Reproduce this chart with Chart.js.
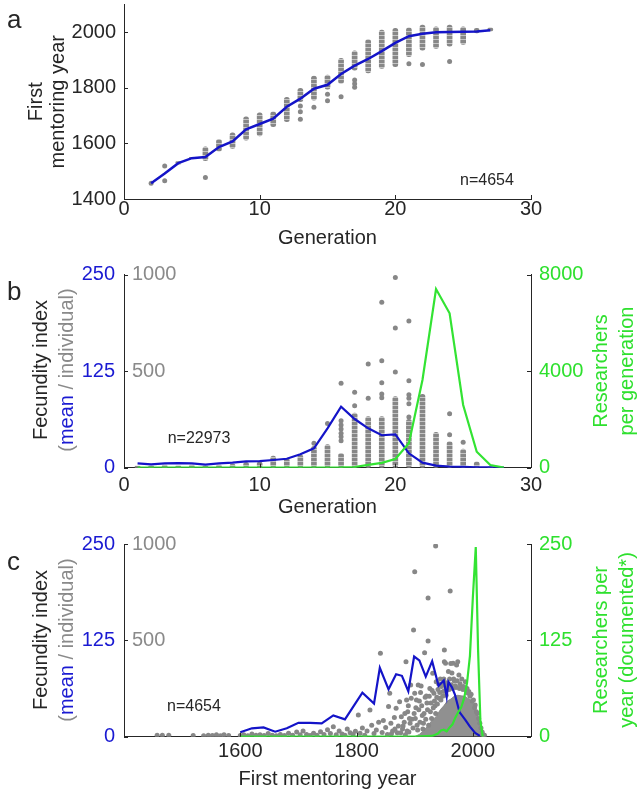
<!DOCTYPE html>
<html><head><meta charset="utf-8">
<script src="https://cdn.jsdelivr.net/npm/chart.js@4.4.1/dist/chart.umd.min.js"></script>
<style>
body{margin:0;width:642px;height:796px;background:#fff;position:relative;overflow:hidden;font-family:"Liberation Sans",Arial,sans-serif;color:#262626}
canvas{position:absolute;left:0}
.lt{position:absolute;font-size:26px;line-height:1}
.n{position:absolute;font-size:16px;line-height:1;transform:translate(-50%,-50%);white-space:nowrap}
.rt{position:absolute;transform:translate(-50%,-50%) rotate(-90deg);font-size:20px;line-height:26px;text-align:center;white-space:nowrap}
.bl{color:#1a1ad2}.gr{color:#8a8a8a}.gn{color:#2ee02e}
</style></head><body>
<canvas id="ca" width="642" height="262" style="top:0"></canvas>
<canvas id="cb" width="642" height="264" style="top:262px"></canvas>
<canvas id="cc" width="642" height="270" style="top:526px"></canvas>

<div class="lt" style="left:7px;top:6px">a</div>
<div class="lt" style="left:7px;top:278px">b</div>
<div class="lt" style="left:7px;top:548px">c</div>

<div class="n" style="left:487px;top:180px">n=4654</div>
<div class="n" style="left:199px;top:438px">n=22973</div>
<div class="n" style="left:194px;top:706px">n=4654</div>

<div class="rt" style="left:53px;top:370px"><div>Fecundity index</div><div><span class="gr">(</span><span class="bl">mean</span><span class="gr"> / individual)</span></div></div>
<div class="rt gn" style="left:613px;top:371px"><div>Researchers</div><div>per generation</div></div>
<div class="rt" style="left:53px;top:640px"><div>Fecundity index</div><div><span class="gr">(</span><span class="bl">mean</span><span class="gr"> / individual)</span></div></div>
<div class="rt gn" style="left:613px;top:640px"><div>Researchers per</div><div>year (documented*)</div></div>

<script>
// ---------- Panel a data ----------
const aXTicks = [0, 10, 20, 30];
const aYTicks = [1400, 1600, 1800, 2000];
const aGen  = [2,3,4,5,6,7,8,9,10,11,12,13,14,15,16,17,18,19,20,21,22,23,24,25,26,27];
const aMean = [1457,1492,1529,1547,1551,1587,1607,1651,1670,1689,1732,1761,1797,1811,1850,1880,1904,1932,1962,1986,1995,2000,2001,2002,2003,2007];
const aColGen = [4,5,6,7,8,9,10,11,12,13,14,15,16,17,18,19,20,21,22,23,24,25,26,27];
const aColMin = [1525,1545,1538,1572,1582,1612,1627,1660,1678,1750,1756,1795,1816,1864,1854,1870,1876,1912,1936,1942,1950,1956,1998,2004];
const aColMax = [1535,1550,1588,1615,1638,1696,1710,1714,1766,1798,1842,1846,1906,1933,1974,2008,2014,2016,2026,2020,2026,2020,2014,2016];
const aOutGen = [2,3,3,6,13,13,13,14,15,15,16,17,17,17,21,22,24];
const aOutVal = [1457,1519,1466,1477,1735,1714,1687,1730,1777,1754,1768,1828,1815,1802,1887,1884,1895];

// ---------- Panel b data ----------
const bXTicks = [0, 10, 20, 30];
const bBlueTicks = [0, 125, 250];
const bGrayTicks = [500, 1000];
const bGreenTicks = [0, 4000, 8000];
const bGen   = [1,2,3,4,5,6,7,8,9,10,11,12,13,14,15,16,17,18,19,20,21,22,23,24,25,26,27,28];
const bMean  = [5.7,4.4,5.7,6,5.7,3.9,5.7,6.5,8.3,8.6,10,11.6,17.3,25,51,79,63,51,42,43,18.6,6.5,2.6,1.3,1,0.5,0.3,0];
const bResearchers = [0,0,0,0,0,0,0,0,0,0,0,0,0,0,5,10,30,120,200,360,1010,3631,7400,6393,2596,663,112,0];
const bColGen = [1,2,3,4,5,6,7,8,9,10,11,12,13,14,15,16,17,18,19,20,21,22,23,24,25,26,27];
const bColTop = [8,10,14,10,14,8,14,19,28,31,60,48,66,110,120,74,283,264,264,368,250,380,183,135,97,31,5];
const bOutGen = [14,15,16,16,16,16,16,16,16,17,17,18,18,19,19,19,19,19,20,20,20,21,21,21,21,21,21,24,24,25];
const bOutVal = [126,229,140,160,178,200,221,243,437,321,391,360,537,362,381,440,554,856,495,723,985,262,331,360,377,450,759,170,279,132];

// ---------- Panel c data ----------
const cXTicks = [1600, 1800, 2000];
const cBlueTicks = [0, 125, 250];
const cGrayTicks = [500, 1000];
const cGreenTicks = [0, 125, 250];
const cMeanYear = [1600,1620,1640,1660,1680,1700,1720,1740,1760,1780,1810,1830,1840,1855,1868,1878,1889,1899,1908,1919,1930,1941,1950,1955,1958,1964,1969,1977,1987,1995,2004,2012];
const cMean     = [5.7,10.9,12,6.5,11,18,18,17.3,27.7,22.5,57,43,89.5,61.5,81,79,59,104,99,78,98,66,73,52,71,64,55,32,21.7,13,5,1];
const cResYear  = [1600,1700,1800,1900,1930,1940,1945,1950,1955,1960,1965,1970,1975,1980,1985,1990,1995,2000,2005,2009,2013,2017];
const cResearchers = [0,0,0,0,1,4,8,9,7,12,16,25,32,38,50,70,105,181,246,112,20,0];
const cBlobYear = [1900,1908,1915,1922,1930,1937,1944,1950,1956,1962,1968,1974,1980,1986,1991,1996,2001,2005,2009,2013,2017];
const cBlobTop  = [0,12,30,55,85,105,140,160,185,195,210,215,212,210,200,190,170,140,95,40,0];
const cPtYear = [1457,1466,1477,1519,1537,1545,1552,1559,1566,1572,1580,1600,1606,1613,1620,1627,1634,1641,1648,1655,1662,1669,1676,1683,1690,1697,1703,1708,1714,1720,1726,1732,1738,1744,1750,1755,1760,1765,1770,1775,1780,1784,1789,1794,1798,1803,1806,1810,1814,1818,1823,1826,1830,1834,1838,1841,1844,1846,1850,1853,1855,1857,1859,1862,1865,1868,1870,1872,1874,1877,1879,1882,1885,1886,1888,1890,1893,1895,1898,1900,1900,1902,1904,1906,1908,1911,1913,1915,1917,1918,1920,1922,1923,1923,1926,1928,1931,1933,1935,1936,1937,1940,1942,1944,1947,1949,1951,1951,1953,1955,1957,1958,1960,1961,1962,1964,1966,1968,1970,1972,1974,1976,1978,1981,1984,1987,1990,1993,1997,2001,2004,2008,2012,2016,2020,
  1880,1883,1887,1889,1892,1894,1897,1899,1901,1903,1905,1907,1909,1910,1912,1914,1916,1919,1921,1924,1925,1927,1929,1930,1932,1934,1936,1938,1939,1941,1943,1945,1946,1948,1950,1952,1954,1956,1959,1963,1965,1967,1971,1973,1977,1979,1983,1986,1989,1992,1995,1999,2003,2006,2010,2014,2018,1860,1866,1876,1884,1891];
const cPtVal  = [8,8,8,6,5,8,6,10,5,10,6,6,10,5,14,7,10,6,16,8,5,12,6,18,8,24,10,30,12,6,18,8,26,12,36,16,52,10,30,14,8,40,20,12,28,112,18,45,8,30,138,60,16,35,75,433,22,84,48,12,157,225,70,30,100,147,20,55,182,104,40,75,389,190,130,25,268,90,554,856,225,150,60,268,185,263,110,70,436,205,211,140,720,497,250,175,329,225,160,990,285,245,200,300,270,235,450,389,381,280,255,338,300,756,380,330,381,290,265,372,389,320,275,300,260,285,250,235,220,190,165,120,70,25,8,
  55,120,30,160,70,200,45,120,95,190,35,140,75,230,160,40,120,90,175,60,210,130,95,240,150,185,120,205,170,275,230,190,260,210,300,240,215,265,245,270,250,300,255,290,250,260,245,250,240,225,210,185,150,130,95,45,10,15,40,20,10,95];

// ---------- styling ----------
const GRAY = '#878787', BLUE = '#1414c8', GREEN = '#33e333', AX = '#262626';
const TBLUE = '#1a1ad2', TGRAY = '#8a8a8a', TGREEN = '#2ee02e';
Chart.defaults.font.family = '"Liberation Sans", Arial, sans-serif';
const F20 = {size: 20, lineHeight: 1};

function beads(canvasId) {
  const t = document.createElement('canvas'); t.width = 1; t.height = 4;
  const g = t.getContext('2d');
  g.fillStyle = GRAY; g.fillRect(0, 0, 1, 3);
  g.fillStyle = '#c4c4c4'; g.fillRect(0, 3, 1, 1);
  return document.getElementById(canvasId).getContext('2d').createPattern(t, 'repeat');
}

const inTicks = {
  id: 'inTicks',
  afterDatasetsDraw(chart, args, opts) {
    const ctx = chart.ctx, ca = chart.chartArea;
    ctx.save(); ctx.strokeStyle = AX; ctx.lineWidth = 1;
    (opts.ids || []).forEach(id => {
      const s = chart.scales[id]; if (!s) return;
      s.ticks.forEach(t => {
        const p = Math.round(s.getPixelForValue(t.value)) + 0.5;
        ctx.beginPath();
        if (s.isHorizontal()) { ctx.moveTo(p, ca.bottom); ctx.lineTo(p, ca.bottom - 4); }
        else if (s.position === 'left') { ctx.moveTo(ca.left, p); ctx.lineTo(ca.left + 4, p); }
        else { ctx.moveTo(ca.right, p); ctx.lineTo(ca.right - 4, p); }
        ctx.stroke();
      });
    });
    ctx.restore();
  }
};

const NOGRID = {display: false, drawTicks: false, tickLength: 0, offset: false};
function setTicks(vals) { return s => { s.ticks = vals.map(v => ({value: v})); }; }
function xAxis(min, max, ticks, h, pad, title, tpb) {
  return {type: 'linear', position: 'bottom', min, max, offset: false,
    grid: NOGRID, border: {display: true, color: AX, width: 1},
    ticks: {color: AX, font: F20, padding: pad, autoSkip: false, maxRotation: 0, callback: v => String(v)},
    afterBuildTicks: setTicks(ticks),
    afterFit: s => { s.height = h; s.paddingLeft = 0; s.paddingRight = 0; },
    title: {display: true, text: title, color: AX, font: F20, padding: {top: 0, bottom: tpb}}};
}
function yLeft(min, max, ticks, color, pad, extra) {
  return Object.assign({type: 'linear', position: 'left', weight: 1, min, max,
    grid: NOGRID, border: {display: true, color: AX, width: 1},
    ticks: {color, font: F20, padding: pad, autoSkip: false, callback: v => String(v)},
    afterBuildTicks: setTicks(ticks),
    afterFit: s => { s.width = 124; s.paddingTop = 0; s.paddingBottom = 0; }}, extra || {});
}
function yGray(ticks) {
  return {type: 'linear', position: 'left', weight: 0, min: 0, max: 1000,
    grid: NOGRID, border: {display: false},
    ticks: {mirror: true, color: TGRAY, font: F20, padding: 8, autoSkip: false, callback: v => String(v)},
    afterBuildTicks: setTicks(ticks),
    afterFit: s => { s.width = 0; s.paddingTop = 0; s.paddingBottom = 0; }};
}
function yRight(max, ticks) {
  return {type: 'linear', position: 'right', min: 0, max,
    grid: NOGRID, border: {display: true, color: AX, width: 1},
    ticks: {color: TGREEN, font: F20, padding: 8, autoSkip: false, callback: v => String(v)},
    afterBuildTicks: setTicks(ticks),
    afterFit: s => { s.width = 111; s.paddingTop = 0; s.paddingBottom = 0; }};
}
const common = {responsive: false, animation: false, events: [],
  plugins: {legend: {display: false}, tooltip: {enabled: false}}};

// ---------- Panel a ----------
new Chart(document.getElementById('ca'), {
  type: 'scatter',
  data: {datasets: [
    {type: 'bar', data: aColGen.map((g, i) => ({x: g, y: [aColMin[i], aColMax[i]]})),
     backgroundColor: beads('ca'), barThickness: 5, borderRadius: 2.5, borderSkipped: false, order: 3},
    {type: 'scatter', data: aOutGen.map((g, i) => ({x: g, y: aOutVal[i]})),
     backgroundColor: GRAY, pointRadius: 2.5, pointBorderWidth: 0, order: 2},
    {type: 'line', data: aGen.map((g, i) => ({x: g, y: aMean[i]})),
     borderColor: BLUE, borderWidth: 2.5, pointRadius: 0, fill: false, tension: 0, order: 1}
  ]},
  options: Object.assign({}, common, {
    layout: {padding: {top: 4.5, right: 111, left: 0, bottom: 0}},
    scales: {
      x: xAxis(0, 30, aXTicks, 63, 0, 'Generation', 14),
      y: yLeft(1400, 2100, aYTicks, AX, 8, {title: {display: true, text: ['First', 'mentoring year'], color: AX,
          font: {size: 20, lineHeight: 1.1}, padding: {top: 25, bottom: 0}}})
    },
    plugins: Object.assign({}, common.plugins, {inTicks: {ids: ['x', 'y']}})
  }),
  plugins: [inTicks]
});

// ---------- Panel b ----------
new Chart(document.getElementById('cb'), {
  type: 'scatter',
  data: {datasets: [
    {type: 'bar', yAxisID: 'yg', data: bColGen.map((g, i) => ({x: g, y: [0, bColTop[i]]})),
     backgroundColor: beads('cb'), barThickness: 5, borderRadius: 2.5, borderSkipped: false, order: 4},
    {type: 'scatter', yAxisID: 'yg', data: bOutGen.map((g, i) => ({x: g, y: bOutVal[i]})),
     backgroundColor: GRAY, pointRadius: 2.5, pointBorderWidth: 0, order: 3},
    {type: 'line', yAxisID: 'y', data: bGen.map((g, i) => ({x: g, y: bMean[i]})),
     borderColor: BLUE, borderWidth: 2.2, pointRadius: 0, fill: false, order: 2},
    {type: 'line', yAxisID: 'yr', data: bGen.map((g, i) => ({x: g, y: bResearchers[i]})),
     borderColor: GREEN, borderWidth: 2.2, pointRadius: 0, fill: false, order: 1}
  ]},
  options: Object.assign({}, common, {
    layout: {padding: {top: 12.5, right: 0, left: 0, bottom: 0}},
    scales: {
      x: xAxis(0, 30, bXTicks, 58.3, 8, 'Generation', 9),
      y: yLeft(0, 250, bBlueTicks, TBLUE, 9),
      yg: yGray(bGrayTicks),
      yr: yRight(8000, bGreenTicks)
    },
    plugins: Object.assign({}, common.plugins, {inTicks: {ids: ['x', 'y', 'yr']}})
  }),
  plugins: [inTicks]
});

// ---------- Panel c ----------
new Chart(document.getElementById('cc'), {
  type: 'scatter',
  data: {datasets: [
    {type: 'line', yAxisID: 'yg', data: cBlobYear.map((x, i) => ({x, y: cBlobTop[i]})),
     borderColor: 'rgba(135,135,135,0.92)', borderWidth: 1, backgroundColor: 'rgba(135,135,135,0.92)',
     pointRadius: 0, fill: 'origin', tension: 0, order: 4},
    {type: 'scatter', yAxisID: 'yg', data: cPtYear.map((x, i) => ({x, y: cPtVal[i]})),
     backgroundColor: GRAY, pointRadius: 2.5, pointBorderWidth: 0, order: 3},
    {type: 'line', yAxisID: 'y', data: cMeanYear.map((x, i) => ({x, y: cMean[i]})),
     borderColor: BLUE, borderWidth: 2.2, pointRadius: 0, fill: false, order: 2},
    {type: 'line', yAxisID: 'yr', data: cResYear.map((x, i) => ({x, y: cResearchers[i]})),
     borderColor: GREEN, borderWidth: 2.2, pointRadius: 0, fill: false, order: 1}
  ]},
  options: Object.assign({}, common, {
    layout: {padding: {top: 18, right: 0, left: 0, bottom: 0}},
    scales: {
      x: xAxis(1400, 2100, cXTicks, 59.3, 5, 'First mentoring year', 7),
      y: yLeft(0, 250, cBlueTicks, TBLUE, 9),
      yg: yGray(cGrayTicks),
      yr: yRight(250, cGreenTicks)
    },
    plugins: Object.assign({}, common.plugins, {inTicks: {ids: ['x', 'y', 'yr']}})
  }),
  plugins: [inTicks]
});
</script>
</body></html>
